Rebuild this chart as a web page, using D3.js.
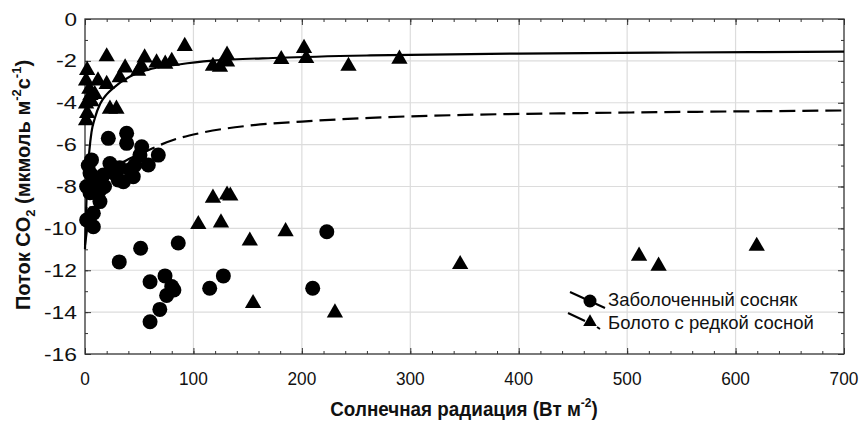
<!DOCTYPE html>
<html>
<head>
<meta charset="utf-8">
<script src="https://cdn.jsdelivr.net/npm/d3@7/dist/d3.min.js"></script>
<style>
  body { margin: 0; background: #fff; }
  svg { display: block; font-family: "Liberation Sans", Arial, sans-serif; }
</style>
</head>
<body>
<script>
// Заболоченный сосняк (circles)
const pineX = [21.5, 38.4, 38.4, 52.3, 67.6, 58.4, 44.5, 30.7, 23, 6, 7.7, 13.8, 13.8, 7.7, 7.7,
  26, 46, 50.7, 32, 17, 4.6, 4.6, 1.5, 1.5, 35.4, 41.5, 3, 10, 18, 28,
  86, 223, 115, 127.6, 210, 31.6, 51.3, 60, 73.8, 80, 75.3, 69, 60, 82];
const pineY = [-5.7, -5.46, -5.94, -6.1, -6.5, -6.97, -7.53, -7.69, -6.9, -6.73, -7.53, -8.17, -8.72, -9.28, -9.92,
  -7.3, -6.97, -6.5, -7.1, -7.45, -7.36, -8.3, -8.0, -9.6, -7.77, -7.2, -7.0, -7.9, -8.0, -7.4,
  -10.7, -10.16, -12.86, -12.27, -12.86, -11.6, -10.95, -12.55, -12.27, -12.78, -13.2, -13.87, -14.46, -12.94];

// Болото с редкой сосной (triangles)
const bogX = [20, 92, 118, 124.5, 131, 131, 181, 202, 204, 243, 290, 55, 66, 74, 80, 49, 37, 32, 12, 20,
  9, 23, 29, 52, 1, 5, 1, 2, 1, 4, 6, 2,
  118, 131, 134, 104.5, 125.4, 152, 185, 155, 230.5, 346, 511, 529, 619.5];
const bogY = [-1.75, -1.25, -2.2, -2.25, -1.67, -2.0, -1.88, -1.35, -1.83, -2.2, -1.86, -1.8, -2.04, -2.1, -1.96, -2.44, -2.28, -2.75, -2.9, -3.07,
  -3.55, -4.25, -4.25, -2.2, -2.9, -3.6, -4.0, -4.45, -4.8, -3.3, -3.9, -2.4,
  -8.5, -8.35, -8.4, -9.76, -9.68, -10.55, -10.1, -13.53, -13.98, -11.67, -11.27, -11.75, -10.8];

// fitted curves
const solidX = [0, 1, 2, 4, 6, 9, 14, 20, 26, 41.5, 57, 88, 118, 180, 263, 400, 550, 700];
const solidY = [-11, -9.2, -7.7, -6.3, -5.4, -4.75, -4.05, -3.6, -3.3, -2.75, -2.44, -2.16, -1.99, -1.85, -1.74, -1.65, -1.6, -1.56];
const dashX = [0, 5, 10, 20, 40, 57, 80, 106, 150, 200, 263, 350, 450, 550, 700];
const dashY = [-10.8, -9.0, -8.2, -7.4, -6.7, -6.3, -5.8, -5.45, -5.1, -4.9, -4.72, -4.58, -4.5, -4.44, -4.37];

const xTicks = [0, 100, 200, 300, 400, 500, 600, 700];
const yTicks = [0, -2, -4, -6, -8, -10, -12, -14, -16];
const legendLabels = ["Заболоченный сосняк", "Болото с редкой сосной"];

const width = 861, height = 421;
const plot = { left: 85, right: 844, top: 19, bottom: 354 };

const svg = d3.select("body").append("svg")
  .attr("width", width)
  .attr("height", height);

const x = d3.scaleLinear().domain([0, 700]).range([plot.left, plot.right]);
const y = d3.scaleLinear().domain([-16, 0]).range([plot.bottom, plot.top]);

// grid
const grid = svg.append("g").attr("stroke", "#dcdcdc").attr("stroke-width", 1.2);
grid.selectAll(".gx").data(xTicks.slice(1, -1)).join("line")
  .attr("x1", d => x(d)).attr("x2", d => x(d))
  .attr("y1", plot.top).attr("y2", plot.bottom);
grid.selectAll(".gy").data(yTicks.slice(1, -1)).join("line")
  .attr("x1", plot.left).attr("x2", plot.right)
  .attr("y1", d => y(d)).attr("y2", d => y(d));

// axes with inward ticks, all four sides
const minorX = d3.range(0, 701, 20);
const minorY = d3.range(-16, 0.1, 1);
function tickAxis(axis, scale, ticks, len) {
  return axis(scale).tickValues(ticks).tickSize(len).tickFormat("");
}
const ax = svg.append("g").attr("class", "axes");
ax.append("g").attr("transform", `translate(0,${plot.bottom})`)
  .call(tickAxis(d3.axisTop, x, minorX, 3));
ax.append("g").attr("transform", `translate(0,${plot.bottom})`)
  .call(tickAxis(d3.axisTop, x, xTicks, 6));
ax.append("g").attr("transform", `translate(0,${plot.top})`)
  .call(tickAxis(d3.axisBottom, x, minorX, 3));
ax.append("g").attr("transform", `translate(0,${plot.top})`)
  .call(tickAxis(d3.axisBottom, x, xTicks, 6));
ax.append("g").attr("transform", `translate(${plot.left},0)`)
  .call(tickAxis(d3.axisRight, y, minorY, 3));
ax.append("g").attr("transform", `translate(${plot.left},0)`)
  .call(tickAxis(d3.axisRight, y, yTicks, 6));
ax.append("g").attr("transform", `translate(${plot.right},0)`)
  .call(tickAxis(d3.axisLeft, y, minorY, 3));
ax.append("g").attr("transform", `translate(${plot.right},0)`)
  .call(tickAxis(d3.axisLeft, y, yTicks, 6));
ax.selectAll(".domain").remove();
ax.selectAll("line").attr("stroke", "#333");

svg.append("rect")
  .attr("x", plot.left).attr("y", plot.top)
  .attr("width", plot.right - plot.left).attr("height", plot.bottom - plot.top)
  .attr("fill", "none").attr("stroke", "#333").attr("stroke-width", 1.3);

// tick labels (x ones look narrow, y ones look wide in the original)
svg.append("g").selectAll("text").data(xTicks).join("text")
  .attr("x", d => x(d)).attr("y", 385)
  .attr("text-anchor", "middle")
  .attr("font-size", 19).attr("fill", "#111")
  .attr("textLength", d => String(d).length * 9.6)
  .attr("lengthAdjust", "spacingAndGlyphs")
  .text(d => d);
svg.append("g").selectAll("text").data(yTicks).join("text")
  .attr("x", 77).attr("y", d => y(d) + 6.5)
  .attr("text-anchor", "end")
  .attr("font-size", 18).attr("fill", "#111")
  .attr("textLength", d => d === 0 ? 12.5 : (d <= -10 ? 33 : 21))
  .attr("lengthAdjust", "spacingAndGlyphs")
  .text(d => d === 0 ? "0" : "-" + Math.abs(d));

// curves
const line = d3.line().x(d => x(d[0])).y(d => y(d[1])).curve(d3.curveMonotoneX);
svg.append("path")
  .attr("d", line(d3.zip(solidX, solidY)))
  .attr("fill", "none").attr("stroke", "#000").attr("stroke-width", 2.2);
svg.append("path")
  .attr("d", line(d3.zip(dashX, dashY)))
  .attr("fill", "none").attr("stroke", "#000").attr("stroke-width", 2.2)
  .attr("stroke-dasharray", "16,7");

// markers
const tri = d3.symbol().type(d3.symbolTriangle).size(115);
svg.append("g").selectAll("path").data(d3.zip(bogX, bogY)).join("path")
  .attr("d", tri)
  .attr("transform", d => `translate(${x(d[0])},${y(d[1]) + 1})`)
  .attr("fill", "#000");
svg.append("g").selectAll("circle").data(d3.zip(pineX, pineY)).join("circle")
  .attr("cx", d => x(d[0])).attr("cy", d => y(d[1]))
  .attr("r", 7.5).attr("fill", "#000");

// legend
const lg = svg.append("g");
lg.append("line").attr("x1", 570).attr("y1", 292).attr("x2", 605).attr("y2", 308)
  .attr("stroke", "#000").attr("stroke-width", 2);
lg.append("circle").attr("cx", 590).attr("cy", 301).attr("r", 6.5).attr("fill", "#000");
lg.append("line").attr("x1", 568).attr("y1", 313).attr("x2", 585).attr("y2", 321)
  .attr("stroke", "#000").attr("stroke-width", 2);
lg.append("line").attr("x1", 597).attr("y1", 327).attr("x2", 600).attr("y2", 329)
  .attr("stroke", "#000").attr("stroke-width", 2);
lg.append("path").attr("d", d3.symbol().type(d3.symbolTriangle).size(80))
  .attr("transform", "translate(590,322)").attr("fill", "#000");
lg.selectAll("text").data(legendLabels).join("text")
  .attr("x", 608).attr("y", (d, i) => 306 + i * 23)
  .attr("font-size", 18.5).attr("fill", "#111")
  .text(d => d);

// axis titles
const xt = svg.append("text")
  .attr("transform", "translate(464,416) scale(0.92,1)")
  .attr("text-anchor", "middle")
  .attr("font-size", 20.5).attr("font-weight", "bold").attr("fill", "#111");
xt.append("tspan").text("Солнечная радиация (Вт м");
xt.append("tspan").attr("font-size", 13).attr("dy", -9).text("-2");
xt.append("tspan").attr("dy", 9).text(")");

const yt = svg.append("text")
  .attr("transform", "translate(30,185) rotate(-90)")
  .attr("text-anchor", "middle")
  .attr("font-size", 20).attr("font-weight", "bold").attr("fill", "#111");
yt.append("tspan").text("Поток CO");
yt.append("tspan").attr("font-size", 13).attr("dy", 5).text("2");
yt.append("tspan").attr("dy", -5).text(" (мкмоль м");
yt.append("tspan").attr("font-size", 13).attr("dy", -9).text("-2");
yt.append("tspan").attr("dy", 9).text("с");
yt.append("tspan").attr("font-size", 13).attr("dy", -9).text("-1");
yt.append("tspan").attr("dy", 9).text(")");
</script>
</body>
</html>
